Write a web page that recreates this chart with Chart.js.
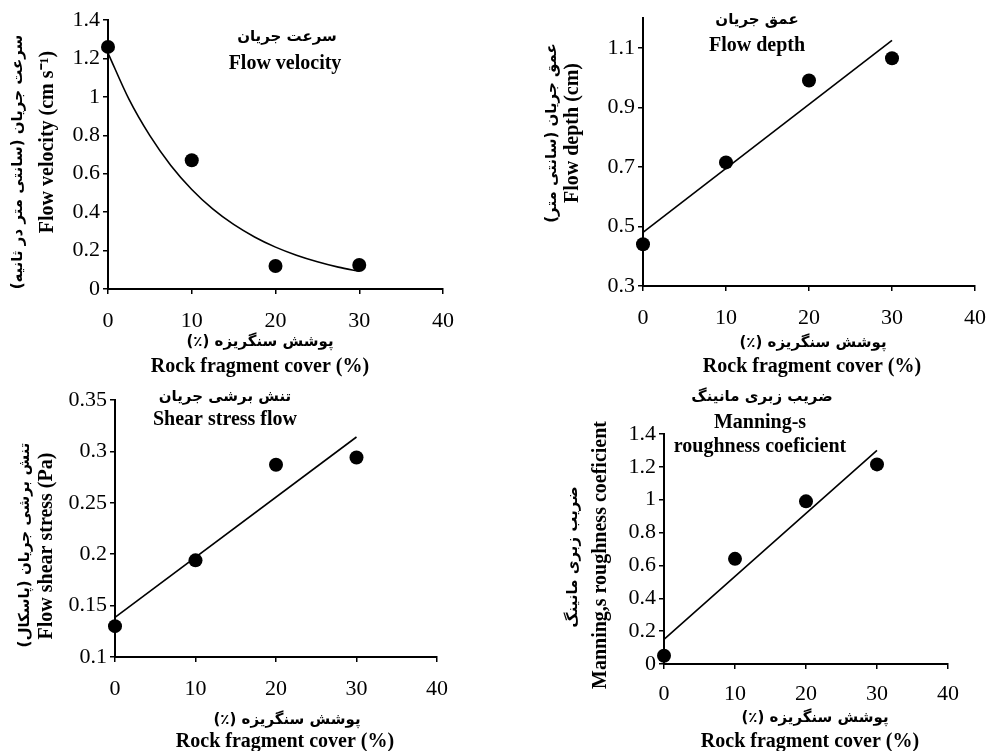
<!DOCTYPE html>
<html><head><meta charset="utf-8">
<script src="https://cdn.jsdelivr.net/npm/chart.js@4.4.1/dist/chart.umd.min.js"></script>
<style>
html,body{margin:0;padding:0;background:#fff;}
#wrap{position:relative;width:987px;height:751px;overflow:hidden;background:#fff;}
canvas{position:absolute;left:0;top:0;}
</style></head><body>
<div id="wrap">
<canvas id="c1" width="987" height="751"></canvas>
<canvas id="c2" width="987" height="751"></canvas>
<canvas id="c3" width="987" height="751"></canvas>
<canvas id="c4" width="987" height="751"></canvas>
</div>
<script>
// ---- data ----
const cover = [0, 10, 20, 30];
const xTicks = [0, 10, 20, 30, 40];

const velocity = [1.26, 0.67, 0.12, 0.125];
const velTrendX = [0, 2.5, 5, 7.5, 10, 12.5, 15, 17.5, 20, 22.5, 25, 27.5, 30];
const velTrendY = [1.228, 0.988, 0.798, 0.643, 0.518, 0.417, 0.336, 0.271, 0.218, 0.176, 0.142, 0.114, 0.092];
const velTicks = [0, 0.2, 0.4, 0.6, 0.8, 1, 1.2, 1.4];

const depth = [0.44, 0.715, 0.99, 1.065];
const depthTrendX = [0, 30];
const depthTrendY = [0.48, 1.125];
const depthTicks = [0.3, 0.5, 0.7, 0.9, 1.1];

const shear = [0.13, 0.194, 0.287, 0.294];
const shearTrendX = [0, 30];
const shearTrendY = [0.1385, 0.314];
const shearTicks = [0.1, 0.15, 0.2, 0.25, 0.3, 0.35];

const manning = [0.05, 0.64, 0.99, 1.215];
const manningTrendX = [0, 30];
const manningTrendY = [0.15, 1.30];
const manningTicks = [0, 0.2, 0.4, 0.6, 0.8, 1, 1.2, 1.4];

const faX = 'پوشش سنگریزه (٪)';
const enX = 'Rock fragment cover (%)';

// ---- helpers ----
const SERIF = '"Liberation Serif", "Times New Roman", serif';
const FA = '"DejaVu Sans", sans-serif';
const W = 987, H = 751;

const textPlugin = {
  id: 'texts',
  afterDraw(chart, args, opts) {
    const ctx = chart.ctx;
    (opts.items || []).forEach(it => {
      ctx.save();
      ctx.fillStyle = '#000';
      ctx.font = it.font;
      ctx.textAlign = 'center';
      ctx.textBaseline = 'middle';
      ctx.direction = it.rtl ? 'rtl' : 'ltr';
      ctx.translate(it.x, it.y);
      if (it.rot) ctx.rotate(it.rot);
      ctx.fillText(it.t, 0, 0);
      ctx.restore();
    });
  }
};

function makeChart(id, cfg) {
  const a = cfg.area; // left, top, right, bottom
  const yW = 60, xH = 46;
  const pts = cover.map((x, i) => ({x: x, y: cfg.values[i]}));
  const trend = cfg.trendX.map((x, i) => ({x: x, y: cfg.trendY[i]}));
  return new Chart(document.getElementById(id), {
    type: 'scatter',
    data: {
      datasets: [
        {data: pts, pointRadius: 7, pointHoverRadius: 7, backgroundColor: '#000', borderColor: '#000', borderWidth: 0, showLine: false, clip: false},
        {data: trend, showLine: true, pointRadius: 0, borderColor: '#000', borderWidth: 1.6, cubicInterpolationMode: 'monotone', clip: false}
      ]
    },
    options: {
      responsive: false,
      animation: false,
      events: [],
      layout: {padding: {left: a[0] - yW, top: a[1], right: W - a[2], bottom: H - a[3] - xH}},
      plugins: {
        legend: {display: false},
        tooltip: {enabled: false},
        texts: {items: cfg.texts}
      },
      scales: {
        x: {
          type: 'linear', min: 0, max: 40,
          afterBuildTicks: s => { s.ticks = xTicks.map(v => ({value: v})); },
          afterFit: s => { s.height = xH; s.paddingLeft = 0; s.paddingRight = 0; },
          ticks: {color: '#000', font: {family: SERIF, size: 22}, padding: cfg.xPad, maxRotation: 0, autoSkip: false, callback: v => String(v)},
          grid: {drawOnChartArea: false, drawTicks: true, tickLength: 5, color: '#000', lineWidth: 1.5},
          border: {display: true, color: '#000', width: 2}
        },
        y: {
          type: 'linear', min: cfg.yMin, max: cfg.yMax,
          afterBuildTicks: s => { s.ticks = cfg.yTicks.map(v => ({value: v})); },
          afterFit: s => { s.width = yW; s.paddingTop = 0; s.paddingBottom = 0; },
          ticks: {color: '#000', font: {family: SERIF, size: 22}, padding: 3, autoSkip: false, callback: v => String(v)},
          grid: {drawOnChartArea: false, drawTicks: true, tickLength: 5, color: '#000', lineWidth: 1.5},
          border: {display: true, color: '#000', width: 2}
        }
      }
    },
    plugins: [textPlugin]
  });
}

const EN = 'bold 20px ' + SERIF;
const FAF = 'bold 15px ' + FA;
const R = -Math.PI / 2;

makeChart('c1', {
  area: [108, 20, 443, 289], yMin: 0, yMax: 1.4, yTicks: velTicks, xPad: 14,
  values: velocity, trendX: velTrendX, trendY: velTrendY,
  texts: [
    {t: 'سرعت جریان', x: 287, y: 37, font: FAF, rtl: true},
    {t: 'Flow velocity', x: 285, y: 64, font: EN},
    {t: 'سرعت جریان (سانتی متر در ثانیه)', x: 18, y: 162, font: FAF, rtl: true, rot: R},
    {t: 'Flow velocity (cm s⁻¹)', x: 48, y: 142, font: EN, rot: R},
    {t: faX, x: 260, y: 342, font: FAF, rtl: true},
    {t: enX, x: 260, y: 367, font: EN}
  ]
});

makeChart('c2', {
  area: [643, 18, 975, 286], yMin: 0.3, yMax: 1.2, yTicks: depthTicks, xPad: 14,
  values: depth, trendX: depthTrendX, trendY: depthTrendY,
  texts: [
    {t: 'عمق جریان', x: 757, y: 20, font: FAF, rtl: true},
    {t: 'Flow depth', x: 757, y: 46, font: EN},
    {t: 'عمق جریان (سانتی متر)', x: 552, y: 133, font: FAF, rtl: true, rot: R},
    {t: 'Flow depth (cm)', x: 573, y: 133, font: EN, rot: R},
    {t: faX, x: 813, y: 343, font: FAF, rtl: true},
    {t: enX, x: 812, y: 367, font: EN}
  ]
});

makeChart('c3', {
  area: [115, 400, 437, 657], yMin: 0.1, yMax: 0.35, yTicks: shearTicks, xPad: 14,
  values: shear, trendX: shearTrendX, trendY: shearTrendY,
  texts: [
    {t: 'تنش برشی جریان', x: 225, y: 397, font: FAF, rtl: true},
    {t: 'Shear stress flow', x: 225, y: 420, font: EN},
    {t: 'تنش برشی جریان (پاسکال)', x: 25, y: 545, font: FAF, rtl: true, rot: R},
    {t: 'Flow shear stress (Pa)', x: 47, y: 546, font: EN, rot: R},
    {t: faX, x: 287, y: 720, font: FAF, rtl: true},
    {t: enX, x: 285, y: 742, font: EN}
  ]
});

makeChart('c4', {
  area: [664, 434, 948, 664], yMin: 0, yMax: 1.4, yTicks: manningTicks, xPad: 12,
  values: manning, trendX: manningTrendX, trendY: manningTrendY,
  texts: [
    {t: 'ضریب زبری مانینگ', x: 762, y: 397, font: FAF, rtl: true},
    {t: 'Manning-s', x: 760, y: 423, font: EN},
    {t: 'roughness coeficient', x: 760, y: 447, font: EN},
    {t: 'ضریب زبری مانینگ', x: 573, y: 557, font: FAF, rtl: true, rot: R},
    {t: 'Manning,s roughness coeficient', x: 601, y: 555, font: EN, rot: R},
    {t: faX, x: 815, y: 718, font: FAF, rtl: true},
    {t: enX, x: 810, y: 742, font: EN}
  ]
});
</script>
</body></html>
